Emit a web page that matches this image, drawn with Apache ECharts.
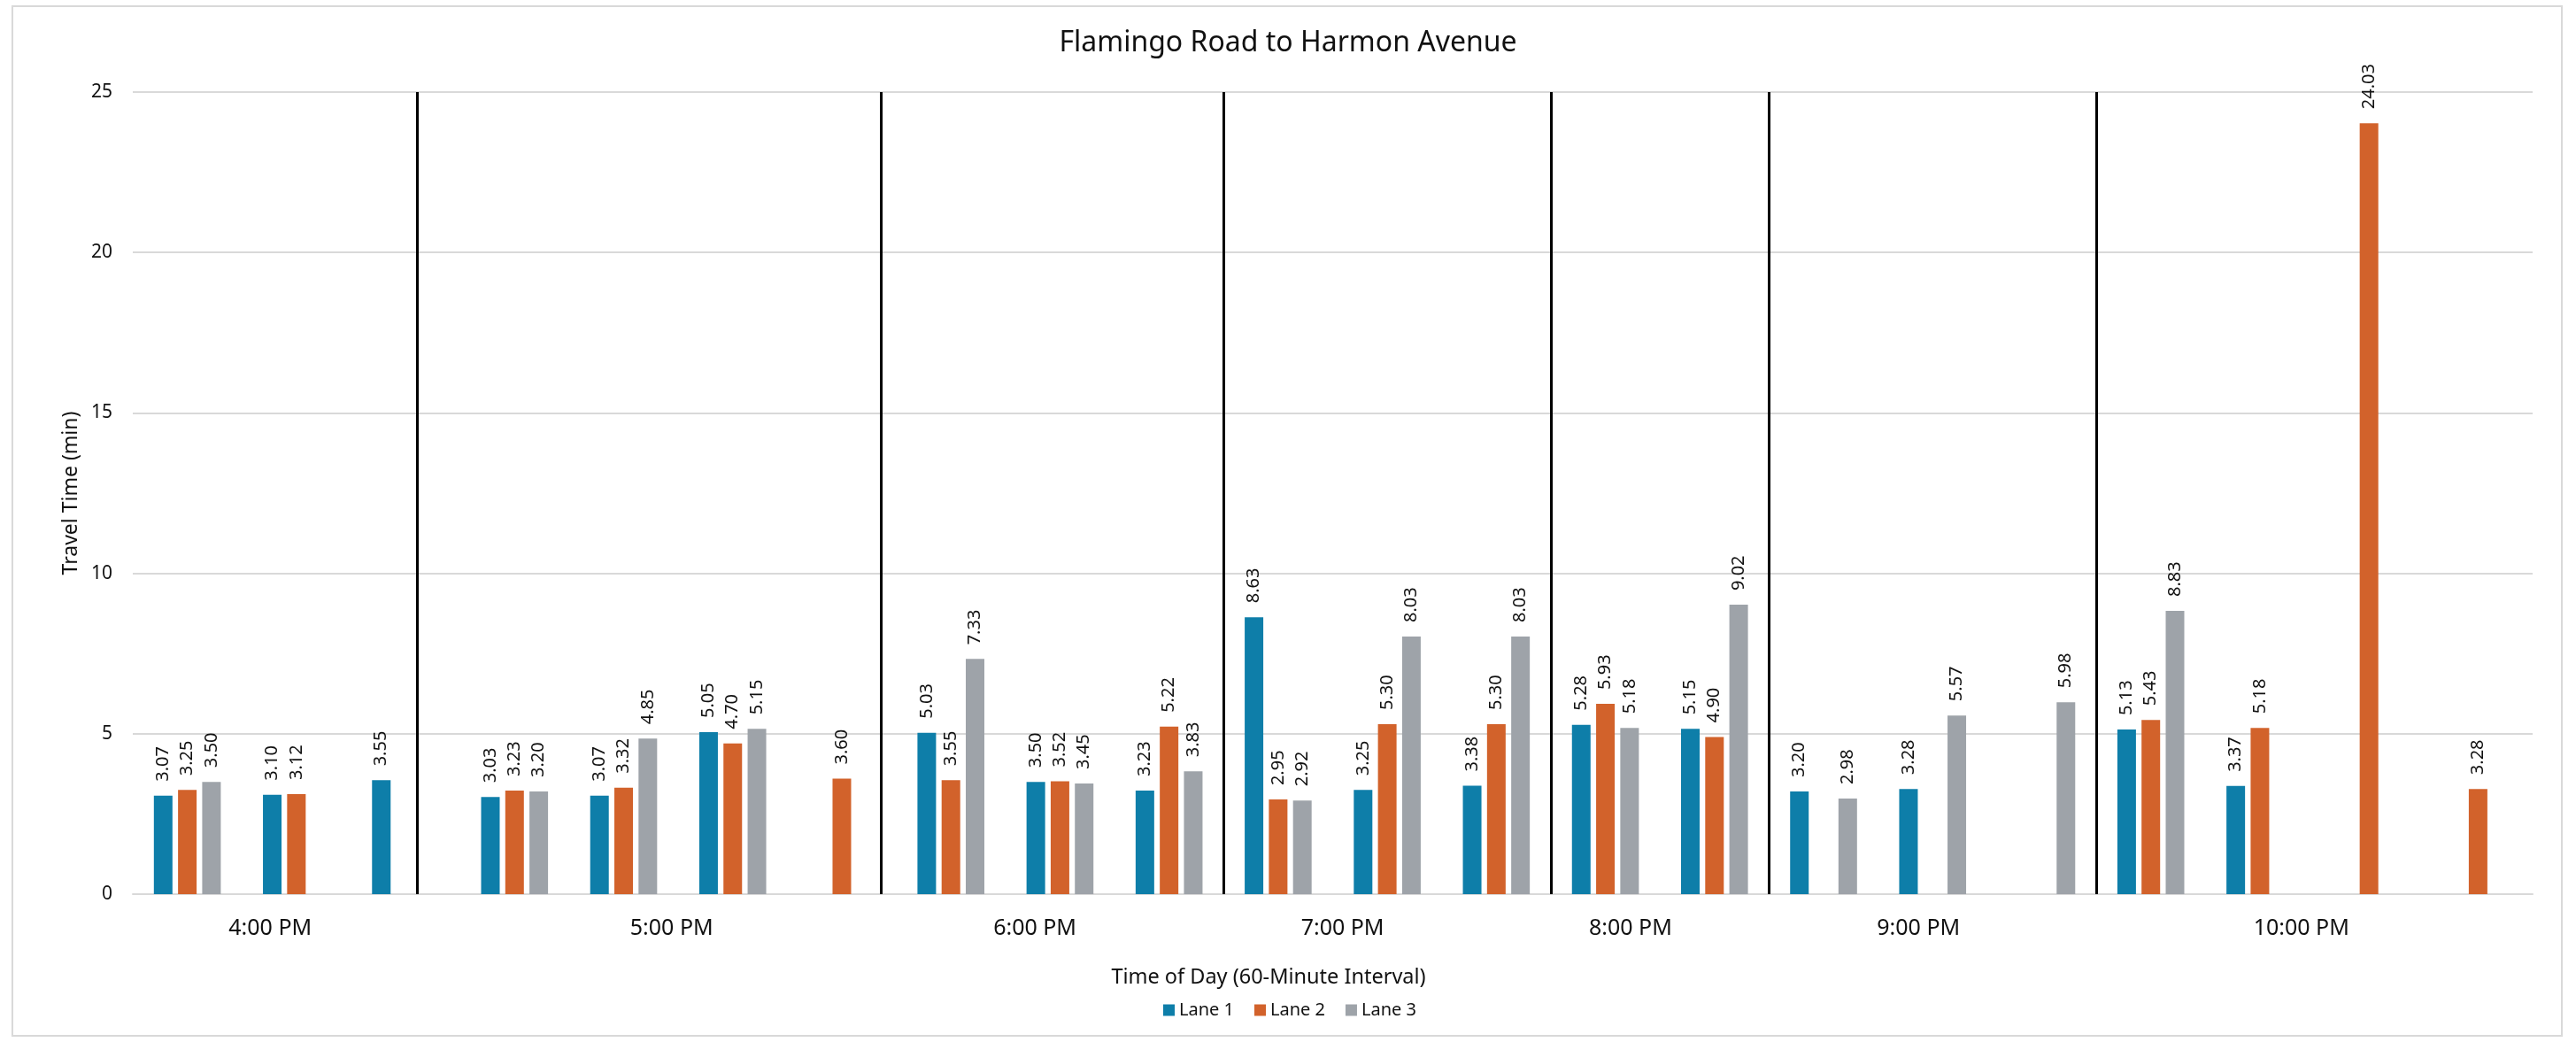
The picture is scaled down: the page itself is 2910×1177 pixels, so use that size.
<!DOCTYPE html>
<html>
<head>
<meta charset="utf-8">
<script src="https://cdn.jsdelivr.net/npm/echarts@6/dist/echarts.min.js"></script>
<style>
html,body{margin:0;padding:0;background:#fff;}
#chart{width:2910px;height:1177px;}
</style>
</head>
<body>
<div id="chart"></div>
<script>
// ---- data ----
const categories = [
  '4:00 PM (1)','4:00 PM (2)','4:00 PM (3)',
  '5:00 PM (1)','5:00 PM (2)','5:00 PM (3)','5:00 PM (4)',
  '6:00 PM (1)','6:00 PM (2)','6:00 PM (3)',
  '7:00 PM (1)','7:00 PM (2)','7:00 PM (3)',
  '8:00 PM (1)','8:00 PM (2)',
  '9:00 PM (1)','9:00 PM (2)','9:00 PM (3)',
  '10:00 PM (1)','10:00 PM (2)','10:00 PM (3)','10:00 PM (4)'
];
const lane1 = [3.07,3.10,3.55, 3.03,3.07,5.05,null, 5.03,3.50,3.23, 8.63,3.25,3.38, 5.28,5.15, 3.20,3.28,null, 5.13,3.37,null,null];
const lane2 = [3.25,3.12,null, 3.23,3.32,4.70,3.60, 3.55,3.52,5.22, 2.95,5.30,5.30, 5.93,4.90, null,null,null, 5.43,5.18,24.03,3.28];
const lane3 = [3.50,null,null, 3.20,4.85,5.15,null, 7.33,3.45,3.83, 2.92,8.03,8.03, 5.18,9.02, 2.98,5.57,5.98, 8.83,null,null,null];
const seriesNames = ['Lane 1','Lane 2','Lane 3'];
const hourLabels = ['4:00 PM','5:00 PM','6:00 PM','7:00 PM','8:00 PM','9:00 PM','10:00 PM'];
// positions (in category units along the axis) of the hour labels and separators
const hourLabelPos = [1.26,4.94,8.27,11.09,13.73,16.37,19.88];
const hourDividers = [2.61,6.86,10,13,15,18];
const yTickMax = 25, yTickStep = 5;

// ---- styling ----
const FONT = "'Noto Sans','Open Sans',sans-serif";
const TXT = '#111111';
const colors = ['#0E7EA9','#D2622B','#9EA3A9'];

const chart = echarts.init(document.getElementById('chart'), null, {renderer:'canvas'});

function barSeries(name, data, color){
  return {
    name: name, type: 'bar', data: data,
    xAxisIndex: 0, yAxisIndex: 0,
    barWidth: 21, barGap: '30%',
    itemStyle: {color: color},
    label: {
      show: true, position: 'top', rotate: 90, align: 'left', verticalAlign: 'middle',
      distance: 16, fontSize: 20, fontFamily: FONT, color: TXT,
      formatter: p => (p.value == null ? '' : Number(p.value).toFixed(2))
    }
  };
}

const option = {
  animation: false,
  backgroundColor: '#ffffff',
  textStyle: {fontFamily: FONT},
  title: {
    text: 'Flamingo Road to Harmon Avenue',
    left: 'center', top: 33, padding: 0,
    textStyle: {fontSize: 32, fontWeight: 'normal', color: TXT, fontFamily: FONT}
  },
  legend: {
    data: seriesNames,
    left: 1314, top: 1131, padding: 0,
    itemWidth: 13, itemHeight: 13, itemGap: 23,
    icon: 'rect',
    textStyle: {fontSize: 20, color: TXT, fontFamily: FONT}
  },
  grid: {left: 150, right: 49, top: 104, bottom: 167, containLabel: false},
  xAxis: [
    {
      type: 'category', data: categories, position: 'bottom',
      axisLine: {show: true, lineStyle: {color: '#D9D9D9', width: 2}},
      axisTick: {show: false},
      axisLabel: {show: false},
      splitLine: {show: false}
    },
    {
      type: 'value', min: 0, max: categories.length, position: 'bottom',
      axisLine: {show: false}, axisTick: {show: false}, splitLine: {show: false},
      axisLabel: {
        show: true, customValues: hourLabelPos, margin: 26,
        fontSize: 25, color: TXT, fontFamily: FONT,
        formatter: v => {
          const i = hourLabelPos.findIndex(p => Math.abs(p - v) < 1e-6);
          return i >= 0 ? hourLabels[i] : '';
        }
      }
    }
  ],
  yAxis: {
    type: 'value', min: 0, max: yTickMax, interval: yTickStep,
    name: 'Travel Time (min)', nameLocation: 'middle', nameGap: 57,
    nameTextStyle: {fontSize: 23, color: TXT, fontFamily: FONT},
    axisLine: {show: false}, axisTick: {show: false},
    axisLabel: {fontSize: 21, color: TXT, margin: 23, fontFamily: FONT},
    splitLine: {lineStyle: {color: '#D9D9D9', width: 2}}
  },
  graphic: [
    {type: 'rect', z: -10, silent: true,
     shape: {x: 14, y: 7, width: 2880, height: 1163},
     style: {fill: 'none', stroke: '#D9D9D9', lineWidth: 2}},
    {type: 'text', left: null, x: 1433, y: 1104, silent: true,
     style: {text: 'Time of Day (60-Minute Interval)', fontSize: 23.5, fontFamily: FONT,
             fill: TXT, textAlign: 'center', textVerticalAlign: 'middle'}}
  ],
  series: [
    barSeries(seriesNames[0], lane1, colors[0]),
    barSeries(seriesNames[1], lane2, colors[1]),
    barSeries(seriesNames[2], lane3, colors[2]),
    {
      name: 'Hour separators', type: 'line', xAxisIndex: 1, yAxisIndex: 0,
      data: [], silent: true, symbol: 'none',
      markLine: {
        silent: true, symbol: ['none','none'], animation: false,
        label: {show: false},
        lineStyle: {color: '#000000', width: 3, type: 'solid'},
        emphasis: {disabled: true},
        data: hourDividers.map(v => ({xAxis: v}))
      }
    }
  ]
};
chart.setOption(option);
</script>
</body>
</html>
